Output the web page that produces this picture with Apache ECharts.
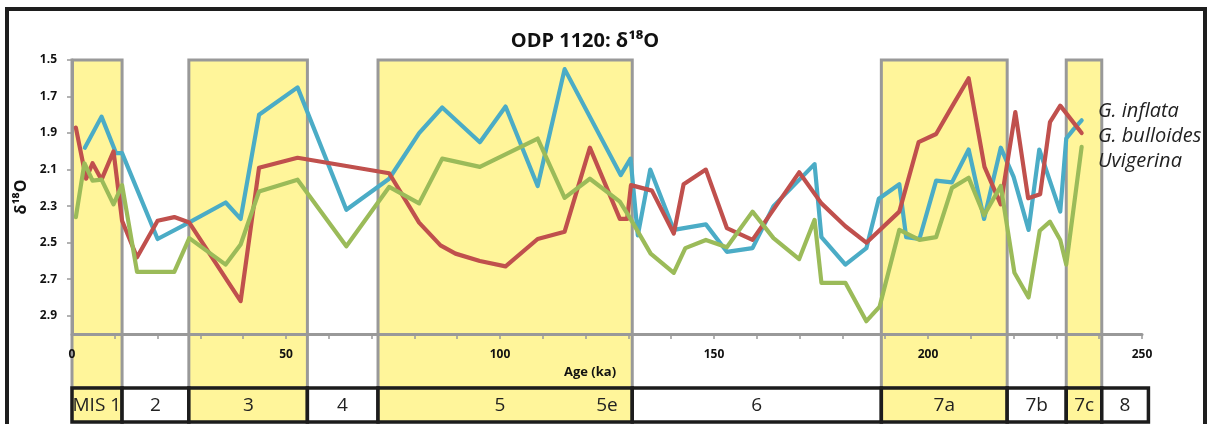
<!DOCTYPE html>
<html>
<head>
<meta charset="utf-8">
<script src="https://cdn.jsdelivr.net/npm/echarts@6/dist/echarts.min.js"></script>
<style>
  html, body { margin: 0; padding: 0; background: #fff; }
  #chart { width: 1210px; height: 424px; }
</style>
</head>
<body>
<div id="chart"></div>
<script>
// ODP 1120 oxygen isotope records (δ18O, ‰) against age (ka)
const seriesNames = ['G. inflata', 'G. bulloides', 'Uvigerina'];
const seriesColors = ['#4BACC6', '#C0504D', '#9BBB59'];

const ageInflata = [3.0, 6.9, 10.3, 11.7, 20.0, 27.3, 35.9, 39.4, 43.7, 52.7, 64.1, 74.1, 81.1, 86.5, 95.3, 101.3,
  108.8, 115.1, 128.2, 130.5, 132.2, 135.1, 140.6, 148.1, 153.0, 159.0, 163.9, 173.5, 175.1, 180.7, 185.6, 188.5,
  193.3, 194.9, 198.0, 201.9, 205.6, 209.5, 213.1, 217.0, 220.0, 223.5, 226.0, 230.9, 232.3, 234.0, 235.9];
const inflata = [1.98, 1.81, 2.01, 2.01, 2.48, 2.39, 2.28, 2.37, 1.80, 1.65, 2.32, 2.15, 1.90, 1.76, 1.95, 1.755,
  2.19, 1.55, 2.13, 2.04, 2.46, 2.10, 2.43, 2.40, 2.55, 2.53, 2.30, 2.07, 2.47, 2.62, 2.53, 2.26,
  2.18, 2.47, 2.48, 2.16, 2.17, 1.99, 2.37, 1.98, 2.14, 2.43, 1.99, 2.33, 1.93, 1.88, 1.83];

const ageBulloides = [0.9, 3.3, 4.8, 6.9, 9.7, 11.7, 15.2, 20.0, 23.9, 27.4, 39.4, 43.7, 52.7, 74.1, 81.1, 86.1,
  89.6, 95.3, 101.3, 108.8, 115.1, 121.0, 128.0, 129.7, 130.6, 135.5, 140.6, 142.9, 148.1, 153.0, 159.0, 169.9,
  175.1, 180.7, 185.6, 193.3, 197.8, 201.9, 205.6, 209.5, 213.2, 217.0, 220.4, 223.4, 226.2, 228.5, 230.9, 235.9];
const bulloides = [1.87, 2.15, 2.065, 2.155, 2.00, 2.38, 2.58, 2.38, 2.36, 2.39, 2.82, 2.09, 2.035, 2.12, 2.39, 2.515,
  2.56, 2.60, 2.63, 2.48, 2.44, 1.98, 2.37, 2.37, 2.185, 2.215, 2.45, 2.18, 2.10, 2.42, 2.485, 2.115,
  2.285, 2.41, 2.50, 2.33, 1.95, 1.905, 1.755, 1.60, 2.085, 2.29, 1.785, 2.257, 2.235, 1.84, 1.75, 1.90];

const ageUvigerina = [0.9, 2.9, 4.8, 6.9, 9.7, 11.7, 15.2, 23.9, 27.4, 35.9, 39.4, 43.7, 52.7, 64.1, 74.1, 81.1,
  86.5, 95.3, 108.8, 115.1, 121.0, 128.0, 130.5, 135.2, 140.6, 143.3, 148.1, 153.0, 159.0, 163.9, 169.9, 173.5,
  175.1, 180.7, 185.6, 188.7, 193.3, 198.0, 201.9, 205.6, 209.5, 213.1, 217.0, 220.2, 223.5, 226.1, 228.5, 230.9,
  232.3, 235.9];
const uvigerina = [2.36, 2.065, 2.16, 2.155, 2.29, 2.185, 2.66, 2.66, 2.475, 2.62, 2.51, 2.22, 2.155, 2.52, 2.195, 2.285,
  2.04, 2.085, 1.93, 2.255, 2.15, 2.275, 2.37, 2.56, 2.665, 2.53, 2.485, 2.525, 2.33, 2.475, 2.59, 2.375,
  2.72, 2.72, 2.93, 2.85, 2.43, 2.485, 2.47, 2.20, 2.145, 2.35, 2.19, 2.665, 2.80, 2.435, 2.385, 2.485,
  2.62, 1.975];

// Marine isotope stage boundaries (ka) and which stages are shaded (warm)
const misBounds = [0, 11.7, 27.3, 55.0, 71.5, 130.9, 189.1, 218.5, 232.3, 240.6, 251.5];
const misShaded = [1, 0, 1, 0, 1, 0, 1, 0, 1, 0];
// Stage labels in the band under the axis
const misLabelAges = [5.8, 19.5, 41.2, 63.2, 100.0, 125.0, 160.0, 203.8, 225.4, 236.5, 246.0];
const misLabelText = ['MIS 1', '2', '3', '4', '5', '5e', '6', '7a', '7b', '7c', '8'];

// Axis ticks
const yLabelValues = [1.5, 1.7, 1.9, 2.1, 2.3, 2.5, 2.7, 2.9];
const xLabelStep = 50;

const YELLOW = '#FFF59A';
const GREY = '#999999';
const FONT = '"Open Sans", "Noto Sans", sans-serif';
const BAND_OFFSET = 54;   // gap between the x axis and the stage band
const BAND_HEIGHT = 34;

const zip = (xs, ys) => xs.map((x, i) => [x, ys[i]]);

const periodData = [];
const cellData = [];
for (let i = 0; i < misBounds.length - 1; i++) {
  periodData.push([misBounds[i], misBounds[i + 1], 1.5, misShaded[i]]);
  cellData.push([misBounds[i], misBounds[i + 1], 1.5, misShaded[i]]);
}
const labelData = misLabelAges.map(a => [a, 1.5]);

function renderPeriod(params, api) {
  if (!api.value(3)) return null;
  const cs = params.coordSys;
  const x0 = api.coord([api.value(0), 1.5])[0];
  const x1 = api.coord([api.value(1), 1.5])[0];
  const top = cs.y;
  const bottom = cs.y + cs.height + BAND_OFFSET;
  return {
    type: 'rect',
    shape: { x: x0, y: top, width: x1 - x0, height: bottom - top },
    style: { fill: YELLOW, stroke: GREY, lineWidth: 3 }
  };
}

function renderCell(params, api) {
  const cs = params.coordSys;
  const x0 = api.coord([api.value(0), 1.5])[0];
  const x1 = api.coord([api.value(1), 1.5])[0];
  const top = cs.y + cs.height + BAND_OFFSET;
  return {
    type: 'rect',
    shape: { x: x0, y: top, width: x1 - x0, height: BAND_HEIGHT },
    style: { fill: api.value(3) ? YELLOW : '#ffffff', stroke: '#1c1c1c', lineWidth: 3.5 }
  };
}

function renderCellLabel(params, api) {
  const cs = params.coordSys;
  const x = api.coord([api.value(0), 1.5])[0];
  const y = cs.y + cs.height + BAND_OFFSET + BAND_HEIGHT / 2 + 1;
  return {
    type: 'text',
    x: x, y: y,
    style: {
      text: misLabelText[params.dataIndex],
      fill: '#222',
      font: '19px ' + FONT,
      align: 'center',
      verticalAlign: 'middle'
    }
  };
}

const chart = echarts.init(document.getElementById('chart'), null, { renderer: 'canvas' });

chart.setOption({
  animation: false,
  backgroundColor: '#ffffff',
  title: {
    text: 'ODP 1120: δ¹⁸O',
    left: 580,
    top: 26,
    textAlign: 'center',
    textStyle: { fontFamily: FONT, fontSize: 20, fontWeight: 'bold', color: '#111' }
  },
  legend: {
    data: seriesNames,
    orient: 'vertical',
    left: 1087,
    top: 94,
    itemWidth: 0,
    itemHeight: 0,
    itemGap: 0,
    selectedMode: false,
    textStyle: { fontFamily: FONT, fontSize: 20, fontStyle: 'italic', color: '#222', lineHeight: 25 }
  },
  grid: { left: 72, right: 68, top: 60, bottom: 90, containLabel: false },
  xAxis: {
    type: 'value',
    min: 0,
    max: 250,
    interval: 10,
    z: 2,
    name: 'Age (ka)',
    nameLocation: 'middle',
    nameGap: 22,
    nameTextStyle: { fontFamily: FONT, fontSize: 13, fontWeight: 'bold', color: '#111', padding: [0, 34, 0, 0] },
    axisLine: { lineStyle: { color: GREY, width: 3 } },
    axisTick: { show: true, length: 5, lineStyle: { color: GREY, width: 1.5 } },
    axisLabel: {
      margin: 15,
      fontFamily: FONT, fontSize: 12, fontWeight: 'bold', color: '#111',
      formatter: v => (v % xLabelStep === 0 ? String(v) : '')
    },
    splitLine: { show: false }
  },
  yAxis: {
    type: 'value',
    inverse: true,
    min: 1.5,
    max: 3.0,
    z: 2,
    name: 'δ¹⁸O',
    nameLocation: 'middle',
    nameRotate: 90,
    nameGap: 42,
    nameTextStyle: { fontFamily: FONT, fontSize: 16, fontWeight: 'bold', color: '#111' },
    axisLine: { show: true, lineStyle: { color: GREY, width: 3 } },
    axisTick: { show: true, length: 5, customValues: yLabelValues, lineStyle: { color: GREY, width: 1.5 } },
    axisLabel: {
      margin: 15,
      customValues: yLabelValues,
      fontFamily: FONT, fontSize: 12, fontWeight: 'bold', color: '#111',
      formatter: v => v.toFixed(1)
    },
    splitLine: { show: false }
  },
  series: [
    {
      type: 'custom', name: 'periods', z: 1, clip: false, silent: true,
      renderItem: renderPeriod, encode: { x: [0, 1], y: 2 }, data: periodData
    },
    ...[[ageInflata, inflata], [ageBulloides, bulloides], [ageUvigerina, uvigerina]].map((pair, i) => ({
      type: 'line',
      name: seriesNames[i],
      z: 3,
      data: zip(pair[0], pair[1]),
      showSymbol: false,
      symbol: 'none',
      smooth: false,
      color: seriesColors[i],
      lineStyle: { color: seriesColors[i], width: 4.2, cap: 'round', join: 'round' }
    })),
    {
      type: 'custom', name: 'stages', z: 5, clip: false, silent: true,
      renderItem: renderCell, encode: { x: [0, 1], y: 2 }, data: cellData
    },
    {
      type: 'custom', name: 'stageLabels', z: 6, clip: false, silent: true,
      renderItem: renderCellLabel, encode: { x: 0, y: 1 }, data: labelData
    }
  ],
  graphic: [
    {
      type: 'rect', z: 100, silent: true,
      shape: { x: 7, y: 9, width: 1198, height: 440 },
      style: { fill: 'none', stroke: '#1e1e1e', lineWidth: 4 }
    }
  ]
});
</script>
</body>
</html>
